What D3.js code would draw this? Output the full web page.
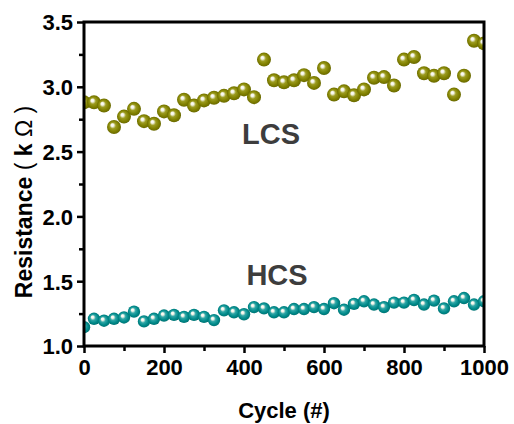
<!DOCTYPE html>
<html><head><meta charset="utf-8">
<script src="https://cdn.jsdelivr.net/npm/d3@7"></script>
<style>body{margin:0;background:#fff}svg{display:block}</style>
</head><body>
<svg id="chart" width="514" height="424"></svg>
<script>
const cycles = [0,25,50,75,100,125,150,175,200,225,250,275,300,325,350,375,400,425,450,475,500,525,550,575,600,625,650,675,700,725,750,775,800,825,850,875,900,925,950,975,1000];
const lcsValues = [2.88,2.88,2.855,2.69,2.77,2.83,2.735,2.715,2.81,2.78,2.90,2.855,2.895,2.915,2.93,2.95,2.98,2.92,3.21,3.05,3.035,3.05,3.09,3.03,3.145,2.94,2.965,2.935,2.98,3.07,3.075,3.01,3.21,3.23,3.105,3.085,3.105,2.94,3.085,3.355,3.335];
const hcsValues = [1.145,1.21,1.195,1.21,1.22,1.265,1.19,1.21,1.235,1.24,1.225,1.24,1.225,1.20,1.275,1.26,1.245,1.30,1.29,1.26,1.26,1.285,1.285,1.30,1.285,1.33,1.28,1.325,1.345,1.32,1.30,1.335,1.335,1.355,1.32,1.35,1.29,1.345,1.37,1.32,1.345];
const xTicks = [0,200,400,600,800,1000];
const xMinorTicks = [100,300,500,700,900];
const yTicks = [1.0,1.5,2.0,2.5,3.0,3.5];
const yMinorTicks = [1.25,1.75,2.25,2.75,3.25];
const seriesNames = ["LCS","HCS"];

const svg = d3.select("#chart");
const L = 84, R = 484, T = 22, B = 346;
const x = d3.scaleLinear().domain([0,1000]).range([L,R]);
const y = d3.scaleLinear().domain([1.0,3.5]).range([B,T]);
const font = "'Liberation Sans', Arial, sans-serif";

const defs = svg.append("defs");
function grad(id, light, base, dark){
  const g = defs.append("radialGradient").attr("id",id)
    .attr("cx","50%").attr("cy","50%").attr("r","55%")
    .attr("fx","36%").attr("fy","34%");
  g.append("stop").attr("offset","0%").attr("stop-color","#ffffff");
  g.append("stop").attr("offset","18%").attr("stop-color","#f4f4e8");
  g.append("stop").attr("offset","40%").attr("stop-color",light);
  g.append("stop").attr("offset","70%").attr("stop-color",base);
  g.append("stop").attr("offset","100%").attr("stop-color",dark);
}
grad("gOlive","#9c9c20","#808000","#626200");
grad("gTeal","#30a6a6","#008a8a","#006c6c");
defs.append("clipPath").attr("id","plotClip").append("rect")
  .attr("x",L).attr("y",T).attr("width",R-L).attr("height",B-T);

const pts = svg.append("g").attr("clip-path","url(#plotClip)");
pts.selectAll("circle.lcs").data(cycles.map((c,i)=>({c,v:lcsValues[i]})))
  .enter().append("circle").attr("class","lcs")
  .attr("cx",d=>x(d.c)).attr("cy",d=>y(d.v)).attr("r",7)
  .attr("fill","url(#gOlive)");
pts.selectAll("circle.hcs").data(cycles.map((c,i)=>({c,v:hcsValues[i]})))
  .enter().append("circle").attr("class","hcs")
  .attr("cx",d=>x(d.c)).attr("cy",d=>y(d.v)).attr("r",6.2)
  .attr("fill","url(#gTeal)");

// frame
svg.append("rect").attr("x",L).attr("y",T).attr("width",R-L).attr("height",B-T)
  .attr("fill","none").attr("stroke","#000").attr("stroke-width",3);

function styleAxis(g){
  g.select(".domain").remove();
  g.selectAll(".tick line").attr("stroke","#000").attr("stroke-width",2.5);
  g.selectAll(".tick text").attr("font-family",font).attr("font-weight","bold")
    .attr("font-size",22).attr("fill","#000");
}
const xAxis = svg.append("g").attr("transform",`translate(0,${B})`)
  .call(d3.axisBottom(x).tickValues(xTicks).tickSize(7).tickPadding(6).tickFormat(d3.format("d")));
styleAxis(xAxis);
const xMinor = svg.append("g").attr("transform",`translate(0,${B})`)
  .call(d3.axisBottom(x).tickValues(xMinorTicks).tickSize(5).tickFormat(""));
styleAxis(xMinor);
const yAxis = svg.append("g").attr("transform",`translate(${L},0)`)
  .call(d3.axisLeft(y).tickValues(yTicks).tickSize(7).tickPadding(4).tickFormat(d3.format(".1f")));
styleAxis(yAxis);
yAxis.selectAll(".tick text").attr("dy","0.36em");
const yMinor = svg.append("g").attr("transform",`translate(${L},0)`)
  .call(d3.axisLeft(y).tickValues(yMinorTicks).tickSize(5).tickFormat(""));
styleAxis(yMinor);

// axis titles
svg.append("text").attr("x",(L+R)/2).attr("y",418).attr("text-anchor","middle")
  .attr("font-family",font).attr("font-weight","bold").attr("font-size",22).text("Cycle (#)");
const yl = svg.append("text").attr("transform","translate(32,202) rotate(-90)")
  .attr("text-anchor","middle").attr("font-family",font).attr("font-weight","bold").attr("font-size",23);
yl.append("tspan").text("Resistance ");
yl.append("tspan").attr("font-weight","normal").text("( ");
yl.append("tspan").text("k ");
yl.append("tspan").attr("font-weight","normal").text("Ω )");

// series labels
svg.append("text").attr("x",271).attr("y",144).attr("text-anchor","middle")
  .attr("font-family",font).attr("font-weight","bold").attr("font-size",29).attr("fill","#3d3d3d").text(seriesNames[0]);
svg.append("text").attr("x",277).attr("y",285).attr("text-anchor","middle")
  .attr("font-family",font).attr("font-weight","bold").attr("font-size",29).attr("fill","#3d3d3d").text(seriesNames[1]);
</script>
</body></html>
